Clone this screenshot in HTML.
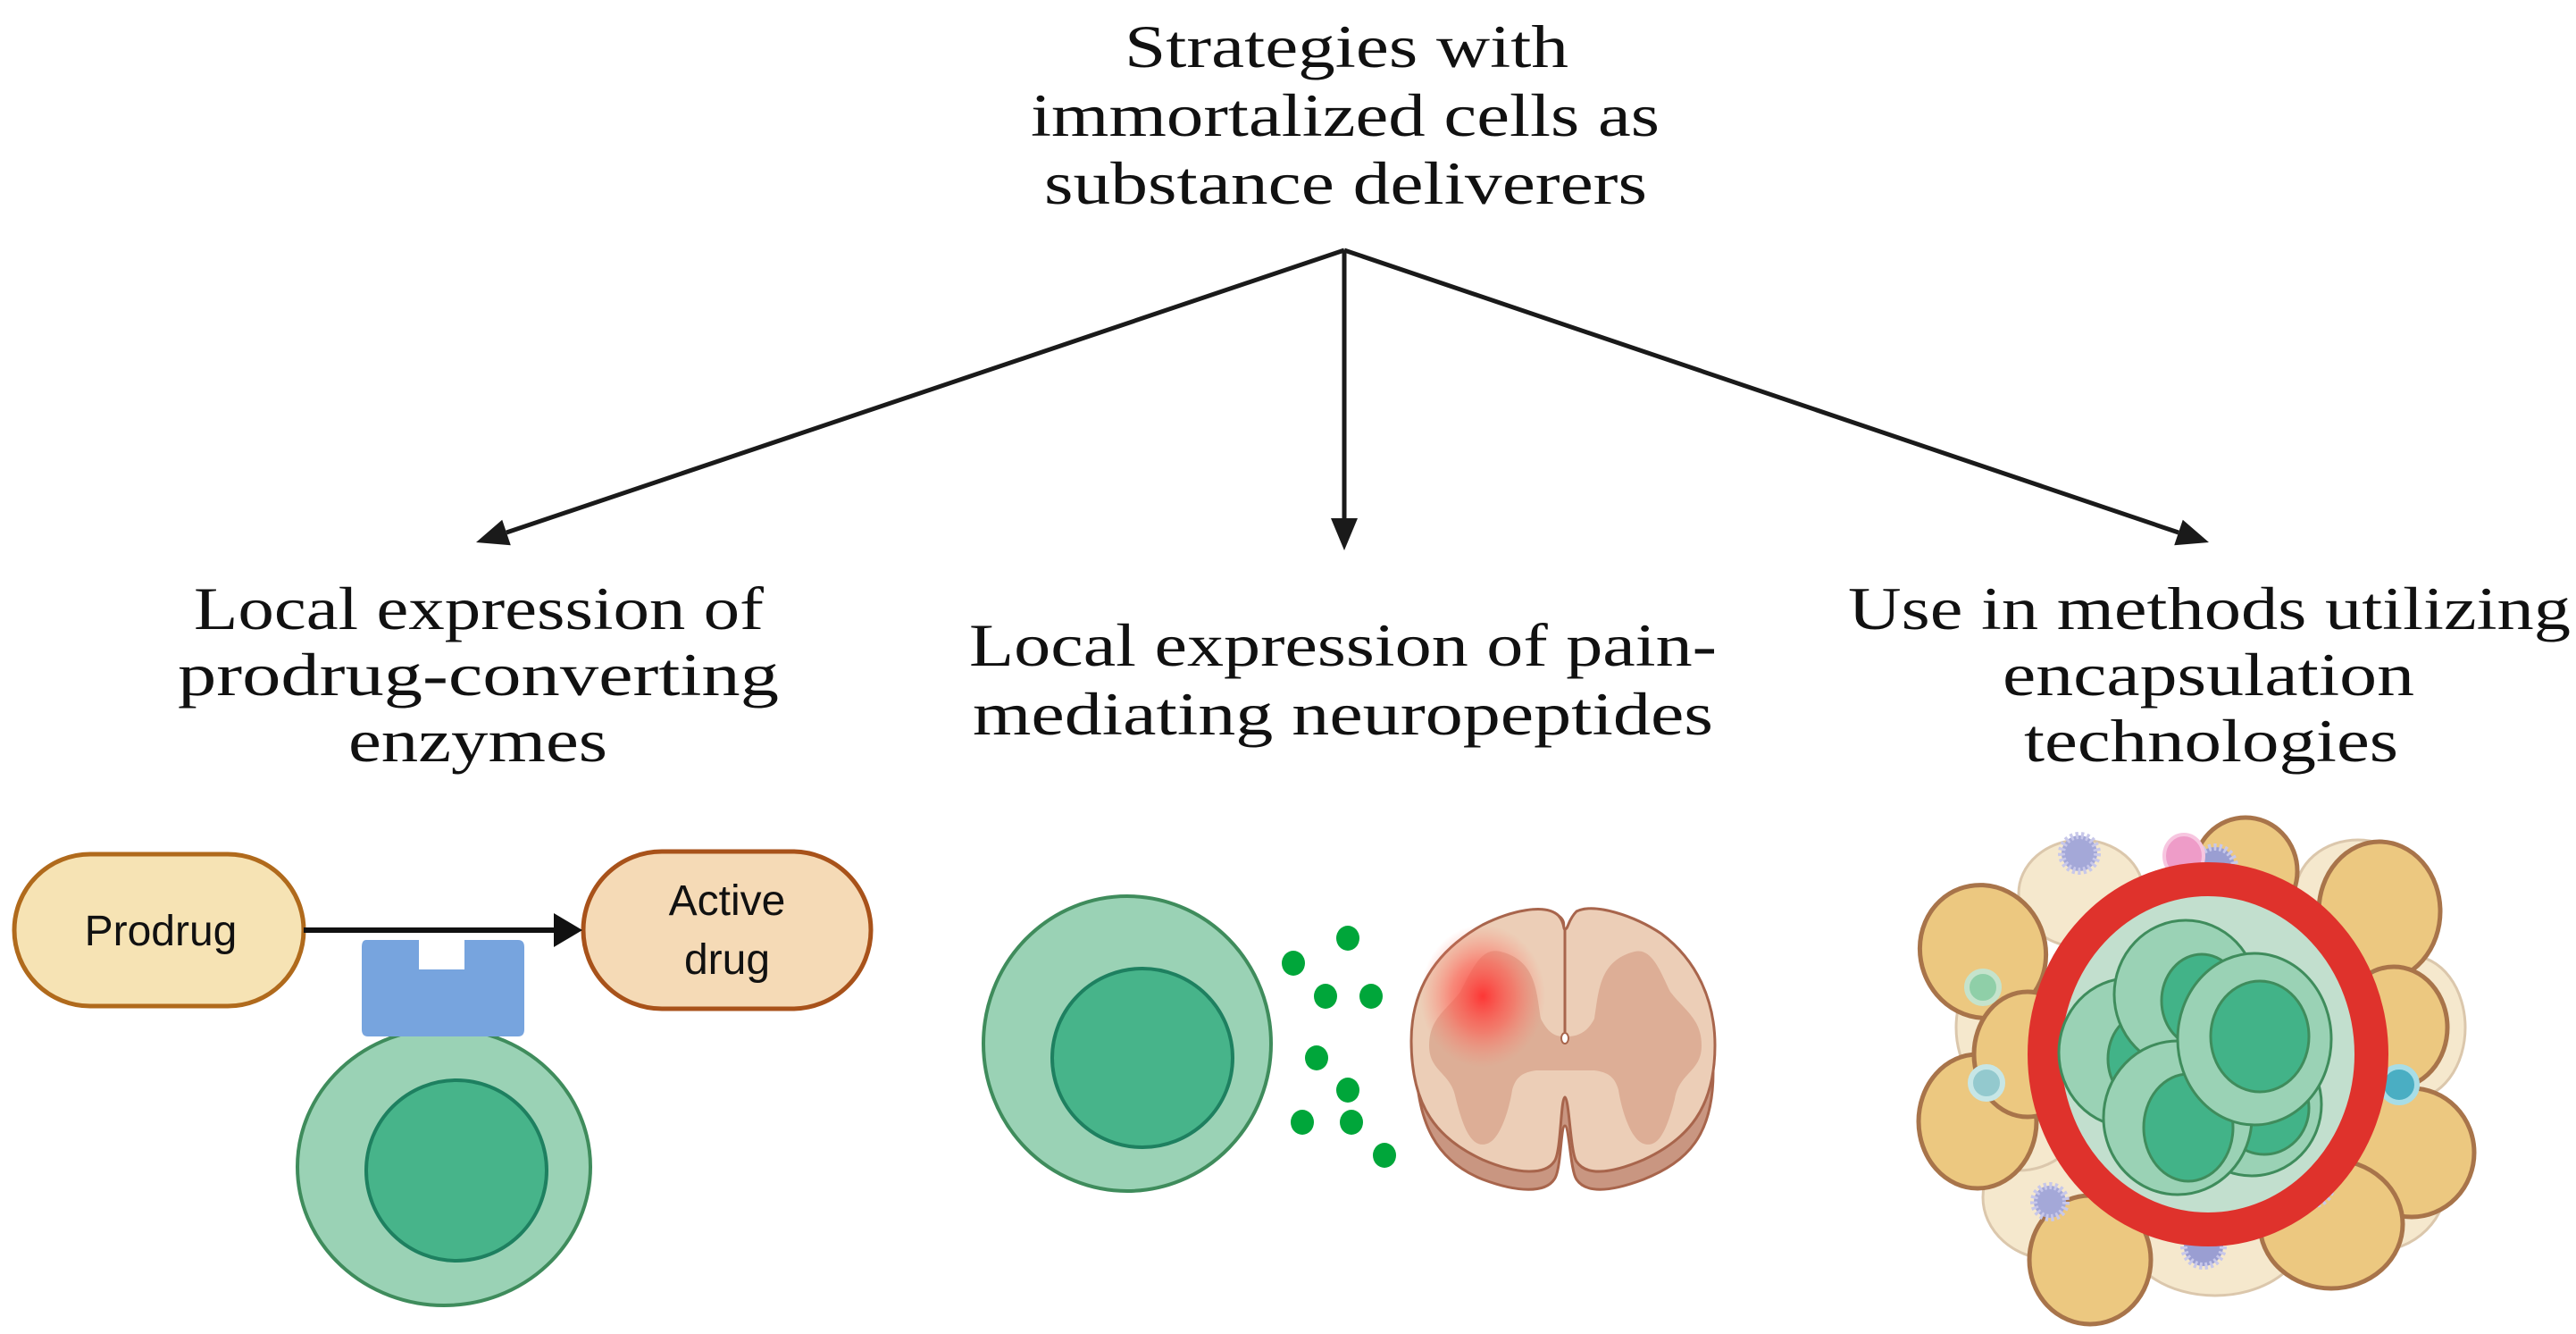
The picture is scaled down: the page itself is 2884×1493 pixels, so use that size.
<!DOCTYPE html>
<html><head><meta charset="utf-8"><style>html,body{margin:0;padding:0;background:#fff}svg{display:block}</style></head>
<body>
<svg width="2884" height="1493" viewBox="0 0 2884 1493" xmlns="http://www.w3.org/2000/svg">
<defs>
<radialGradient id="hot" cx="0.5" cy="0.5" r="0.5"><stop offset="0" stop-color="#ff3030" stop-opacity="0.95"/><stop offset="0.5" stop-color="#ff5a50" stop-opacity="0.6"/><stop offset="1" stop-color="#ff8070" stop-opacity="0"/></radialGradient>
</defs>
<g font-family="'Liberation Serif', serif" font-size="68" fill="#111" text-anchor="start">
<text x="1259" y="75" textLength="497" lengthAdjust="spacingAndGlyphs">Strategies with</text>
<text x="1154" y="152" textLength="704" lengthAdjust="spacingAndGlyphs">immortalized cells as</text>
<text x="1169" y="228" textLength="675" lengthAdjust="spacingAndGlyphs">substance deliverers</text>
<text x="217" y="704" textLength="638" lengthAdjust="spacingAndGlyphs">Local expression of</text>
<text x="199" y="778" textLength="673" lengthAdjust="spacingAndGlyphs">prodrug-converting</text>
<text x="390" y="852" textLength="290" lengthAdjust="spacingAndGlyphs">enzymes</text>
<text x="1085" y="745" textLength="837" lengthAdjust="spacingAndGlyphs">Local expression of pain-</text>
<text x="1089" y="822" textLength="829" lengthAdjust="spacingAndGlyphs">mediating neuropeptides</text>
<text x="2069" y="704" textLength="809" lengthAdjust="spacingAndGlyphs">Use in methods utilizing</text>
<text x="2242" y="778" textLength="461" lengthAdjust="spacingAndGlyphs">encapsulation</text>
<text x="2266" y="852" textLength="419" lengthAdjust="spacingAndGlyphs">technologies</text>
</g>
<g stroke="#1a1a1a" stroke-width="5" fill="none">
<line x1="1505" y1="280" x2="567" y2="596"/>
<line x1="1505" y1="280" x2="1505" y2="582"/>
<line x1="1505" y1="280" x2="2439" y2="596"/>
</g>
<g fill="#1a1a1a">
<path d="M533,607 L571.8,610.2 L562.2,581.8 z"/>
<path d="M1505,616 L1490,580 L1520,580 z"/>
<path d="M2473,607 L2434.2,610.2 L2443.8,581.8 z"/>
</g>

<!-- left panel -->
<rect x="16" y="956" width="324" height="170" rx="85" fill="#f6e3b4" stroke="#b06a1c" stroke-width="5"/>
<rect x="653" y="953" width="322" height="176" rx="88" fill="#f5dab6" stroke="#a8521a" stroke-width="5"/>
<g font-family="'Liberation Sans', sans-serif" font-size="48" fill="#111" text-anchor="middle">
<text x="180" y="1058">Prodrug</text>
<text x="814" y="1024">Active</text>
<text x="814" y="1090">drug</text>
</g>
<line x1="340" y1="1041" x2="625" y2="1041" stroke="#111" stroke-width="6"/>
<path d="M620,1022 L652,1041 L620,1060 z" fill="#111"/>
<ellipse cx="497" cy="1306" rx="164" ry="155" fill="#9ad2b5" stroke="#3f8c5c" stroke-width="4"/>
<ellipse cx="511" cy="1310" rx="101" ry="101" fill="#47b48a" stroke="#1e8060" stroke-width="4"/>
<path d="M410,1052 H469 V1085 H520 V1052 H580 Q587,1052 587,1060 V1152 Q587,1160 580,1160 H412 Q405,1160 405,1152 V1060 Q405,1052 410,1052 z" fill="#77a4de"/>

<!-- middle panel -->
<ellipse cx="1262" cy="1168" rx="161" ry="165" fill="#9ad2b5" stroke="#3f8c5c" stroke-width="4"/>
<ellipse cx="1279" cy="1184" rx="101" ry="100" fill="#47b48a" stroke="#1e8060" stroke-width="4"/>
<g fill="#00a63a">
<ellipse cx="1509" cy="1050" rx="13" ry="14"/><ellipse cx="1448" cy="1078" rx="13" ry="14"/>
<ellipse cx="1484" cy="1115" rx="13" ry="14"/><ellipse cx="1535" cy="1115" rx="13" ry="14"/>
<ellipse cx="1474" cy="1184" rx="13" ry="14"/><ellipse cx="1509" cy="1220" rx="13" ry="14"/>
<ellipse cx="1458" cy="1256" rx="13" ry="14"/><ellipse cx="1513" cy="1256" rx="13" ry="14"/>
<ellipse cx="1550" cy="1293" rx="13" ry="14"/>
</g>
<path d="M1585,1180 C1585,1110 1615,1060 1660,1040 C1690,1025 1730,1010 1745,1025 C1755,1032 1748,1040 1752,1040 C1756,1040 1755,1030 1765,1022 C1785,1010 1830,1028 1860,1050 C1895,1080 1918,1130 1918,1200 C1918,1270 1890,1300 1840,1320 C1800,1335 1775,1335 1765,1320 C1758,1310 1757,1260 1752,1260 C1747,1260 1748,1310 1740,1320 C1730,1335 1700,1335 1660,1320 C1610,1300 1585,1260 1585,1180 z" fill="#c99681" stroke="#a8654c" stroke-width="3"/>
<path d="M1580,1165 C1580,1100 1615,1060 1660,1035 C1690,1020 1730,1010 1745,1025 C1752,1033 1750,1040 1752,1040 C1756,1040 1755,1030 1765,1020 C1785,1010 1830,1025 1860,1045 C1900,1075 1920,1120 1920,1170 C1920,1240 1890,1275 1840,1298 C1800,1315 1775,1315 1765,1300 C1758,1290 1757,1230 1752,1228 C1747,1230 1748,1290 1740,1300 C1730,1315 1700,1315 1660,1298 C1610,1275 1580,1240 1580,1165 z" fill="#ecceb7" stroke="#a8654c" stroke-width="3"/>
<path d="M1600,1170 C1600,1140 1620,1130 1635,1110 C1650,1080 1660,1060 1680,1065 C1720,1075 1720,1110 1725,1140 C1735,1160 1745,1160 1752,1160 C1760,1160 1775,1160 1785,1140 C1790,1110 1790,1075 1830,1065 C1850,1060 1860,1090 1870,1110 C1885,1130 1905,1140 1905,1170 C1905,1200 1880,1200 1875,1230 C1865,1270 1855,1285 1840,1280 C1825,1275 1815,1240 1812,1220 C1808,1205 1800,1200 1785,1198 L1720,1198 C1705,1200 1697,1205 1693,1220 C1690,1240 1680,1275 1665,1280 C1650,1285 1640,1270 1630,1230 C1625,1200 1600,1200 1600,1170 z" fill="#ddae96"/>
<line x1="1752" y1="1040" x2="1752" y2="1155" stroke="#a8654c" stroke-width="3"/>
<ellipse cx="1752" cy="1162" rx="4" ry="6" fill="#fff" stroke="#a8654c" stroke-width="2"/>
<ellipse cx="1660" cy="1115" rx="70" ry="80" fill="url(#hot)"/>

<!-- right panel -->
<g stroke="#d8c2a4" stroke-width="3" fill="#f5e6c8" opacity="0.9">
<ellipse cx="2330" cy="1000" rx="70" ry="60"/><ellipse cx="2640" cy="1000" rx="70" ry="60"/>
<ellipse cx="2250" cy="1150" rx="60" ry="80"/><ellipse cx="2700" cy="1150" rx="60" ry="80"/>
<ellipse cx="2300" cy="1340" rx="80" ry="70"/><ellipse cx="2480" cy="1380" rx="100" ry="70"/>
<ellipse cx="2660" cy="1320" rx="80" ry="80"/><ellipse cx="2260" cy="1250" rx="70" ry="60"/>
</g>
<g stroke="#a8744a" stroke-width="5" fill="#ecc880">
<ellipse cx="2514" cy="975" rx="58" ry="60"/>
<ellipse cx="2664" cy="1020" rx="68" ry="78"/>
<ellipse cx="2220" cy="1065" rx="70" ry="75" transform="rotate(-20 2220 1065)"/>
<ellipse cx="2214" cy="1255" rx="66" ry="75"/>
<ellipse cx="2680" cy="1150" rx="60" ry="68"/>
<ellipse cx="2700" cy="1290" rx="70" ry="72"/>
<ellipse cx="2340" cy="1410" rx="68" ry="72"/>
<ellipse cx="2610" cy="1370" rx="80" ry="72"/>
<ellipse cx="2270" cy="1180" rx="60" ry="70"/>
</g>
<g>
<circle cx="2220" cy="1105" r="18" fill="#8fcfa8" stroke="#c5e3cc" stroke-width="6"/>
<circle cx="2224" cy="1212" r="18" fill="#93c9ce" stroke="#c7e6e6" stroke-width="6"/>
<circle cx="2348" cy="1302" r="18" fill="#8fcfa8" stroke="#c5e3cc" stroke-width="6"/>
<circle cx="2530" cy="1333" r="18" fill="#83c0c4" stroke="#c7e6e6" stroke-width="6"/>
<circle cx="2686" cy="1214" r="20" fill="#4aaec3" stroke="#a8dde6" stroke-width="6"/>
<circle cx="2328" cy="955" r="20" fill="#a4a8d8" stroke="#c8c8ea" stroke-width="8" stroke-dasharray="3 3"/>
<circle cx="2480" cy="970" r="22" fill="#9a9ed2" stroke="#c8c8ea" stroke-width="8" stroke-dasharray="3 3"/>
<circle cx="2590" cy="1328" r="20" fill="#9a9ed2" stroke="#c8c8ea" stroke-width="8" stroke-dasharray="3 3"/>
<circle cx="2467" cy="1395" r="22" fill="#9a9ed2" stroke="#c8c8ea" stroke-width="8" stroke-dasharray="3 3"/>
<circle cx="2295" cy="1345" r="18" fill="#a4a8d8" stroke="#c8c8ea" stroke-width="8" stroke-dasharray="3 3"/>
<ellipse cx="2445" cy="958" rx="22" ry="24" fill="#ee9cc8" stroke="#f7c6e0" stroke-width="4"/>
</g>
<ellipse cx="2472" cy="1180" rx="183" ry="196" fill="#c2dfce" stroke="#df322c" stroke-width="38"/>
<g stroke="#3f8c5c" stroke-width="3">
<ellipse cx="2383" cy="1178" rx="78" ry="83" fill="#9ad2b5"/><ellipse cx="2400" cy="1185" rx="40" ry="50" fill="#42b388"/>
<ellipse cx="2447" cy="1113" rx="80" ry="83" fill="#9ad2b5"/><ellipse cx="2465" cy="1120" rx="45" ry="52" fill="#42b388"/>
<ellipse cx="2521" cy="1236" rx="78" ry="80" fill="#9ad2b5"/><ellipse cx="2535" cy="1240" rx="50" ry="52" fill="#42b388"/>
<ellipse cx="2438" cy="1251" rx="83" ry="86" fill="#9ad2b5"/><ellipse cx="2450" cy="1262" rx="50" ry="60" fill="#42b388"/>
<ellipse cx="2524" cy="1163" rx="86" ry="96" fill="#9ad2b5"/><ellipse cx="2530" cy="1160" rx="55" ry="62" fill="#42b388"/>
</g>
</svg>
</body></html>
